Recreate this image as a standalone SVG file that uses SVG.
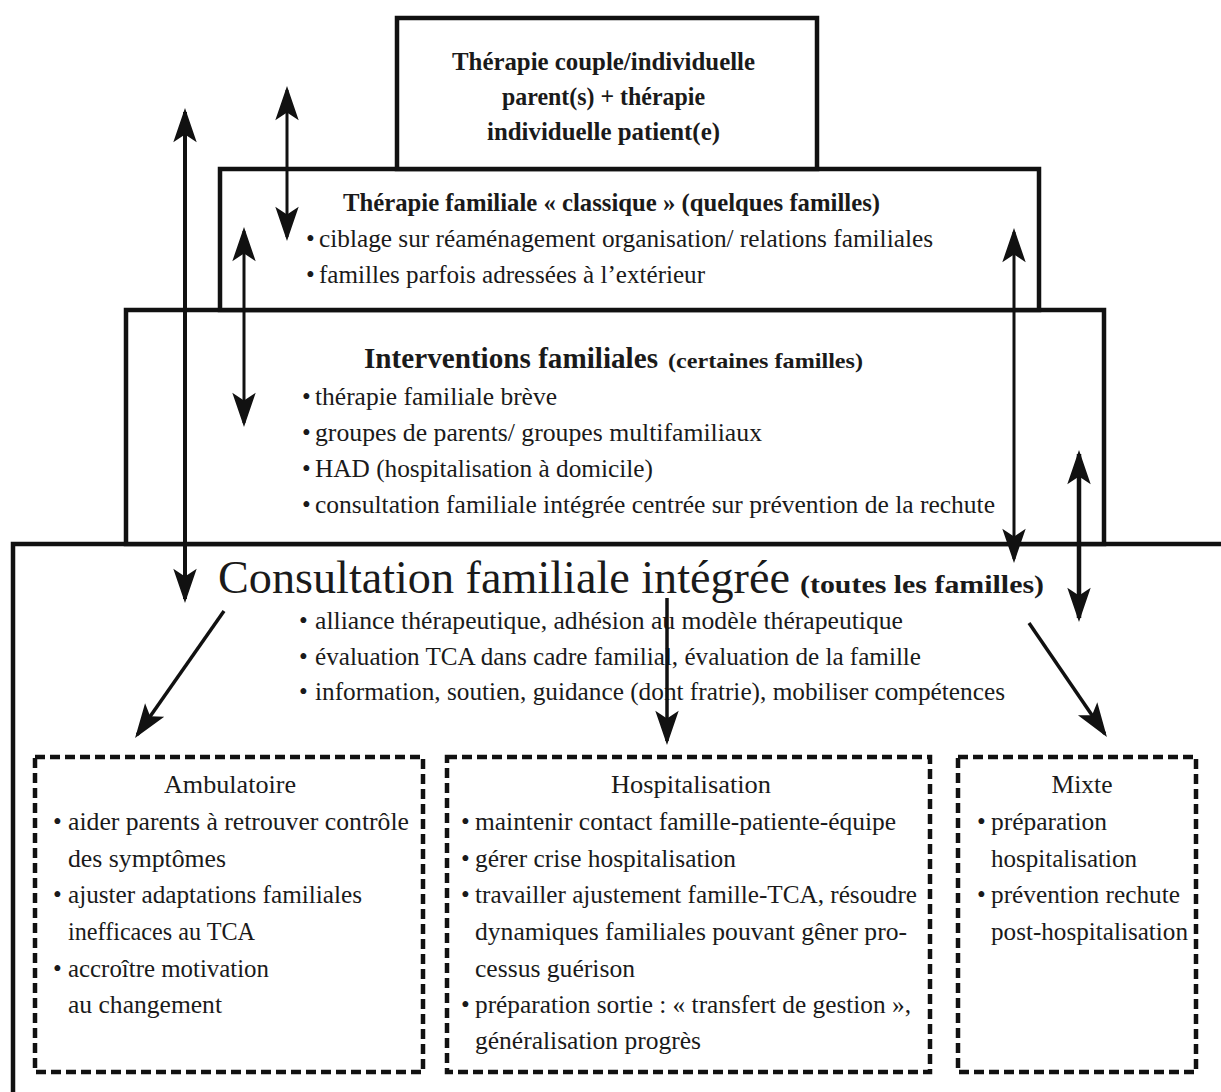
<svg xmlns="http://www.w3.org/2000/svg" width="1221" height="1092" viewBox="0 0 1221 1092">
<defs>
<style>
text{font-family:"Liberation Serif","Times New Roman",serif;fill:#1a1a1a;}
.b{font-weight:bold;}
.hd{font-size:26px;font-weight:bold;}
.tx{font-size:25px;}
.box{fill:#fff;stroke:#111;stroke-width:4.5;}
.dash{fill:none;stroke:#111;stroke-width:4.5;stroke-dasharray:10 5;}
.arr{stroke:#111;fill:none;marker-start:url(#ah);marker-end:url(#ah);}
.one{stroke:#111;fill:none;marker-end:url(#ah);}
</style>
<marker id="ah" markerUnits="userSpaceOnUse" markerWidth="40" markerHeight="28" viewBox="-37 -14 41 28" refX="-4" refY="0" orient="auto-start-reverse">
<path d="M0,0 L-35,-12 L-27,0 L-35,12 Z" fill="#111"/>
</marker>
</defs>
<rect width="1221" height="1092" fill="#fff"/>

<g id="node-consultation">
<path d="M13,1092 V544 H1221" class="box"/>
<text x="218" y="593" font-size="46" textLength="572" lengthAdjust="spacingAndGlyphs">Consultation familiale intégrée</text>
<text x="800" y="593" class="hd" textLength="244" lengthAdjust="spacingAndGlyphs">(toutes les familles)</text>
<text x="299" y="629" class="tx">•</text>
<text x="315" y="629" class="tx" textLength="588" lengthAdjust="spacingAndGlyphs">alliance thérapeutique, adhésion au modèle thérapeutique</text>
<text x="299" y="665" class="tx">•</text>
<text x="315" y="665" class="tx" textLength="606" lengthAdjust="spacingAndGlyphs">évaluation TCA dans cadre familial, évaluation de la famille</text>
<text x="299" y="700" class="tx">•</text>
<text x="315" y="700" class="tx" textLength="690" lengthAdjust="spacingAndGlyphs">information, soutien, guidance (dont fratrie), mobiliser compétences</text>
</g>

<g id="node-interventions">
<rect x="126" y="310" width="978" height="234" class="box"/>
<text x="364" y="368" font-size="30" class="b" textLength="294" lengthAdjust="spacingAndGlyphs">Interventions familiales</text>
<text x="668" y="368" font-size="21" class="b" textLength="195" lengthAdjust="spacingAndGlyphs">(certaines familles)</text>
<text x="302" y="405" class="tx">•</text>
<text x="315" y="405" class="tx" textLength="242" lengthAdjust="spacingAndGlyphs">thérapie familiale brève</text>
<text x="302" y="441" class="tx">•</text>
<text x="315" y="441" class="tx" textLength="447" lengthAdjust="spacingAndGlyphs">groupes de parents/ groupes multifamiliaux</text>
<text x="302" y="477" class="tx">•</text>
<text x="315" y="477" class="tx" textLength="338" lengthAdjust="spacingAndGlyphs">HAD (hospitalisation à domicile)</text>
<text x="302" y="513" class="tx">•</text>
<text x="315" y="513" class="tx" textLength="680" lengthAdjust="spacingAndGlyphs">consultation familiale intégrée centrée sur prévention de la rechute</text>
</g>

<g id="node-classique">
<rect x="220" y="169" width="819" height="141" class="box"/>
<text x="343" y="211" class="hd" textLength="537" lengthAdjust="spacingAndGlyphs">Thérapie familiale « classique » (quelques familles)</text>
<text x="306" y="247" class="tx">•</text>
<text x="319" y="247" class="tx" textLength="614" lengthAdjust="spacingAndGlyphs">ciblage sur réaménagement organisation/ relations familiales</text>
<text x="306" y="283" class="tx">•</text>
<text x="319" y="283" class="tx" textLength="386" lengthAdjust="spacingAndGlyphs">familles parfois adressées à l’extérieur</text>
</g>

<g id="node-couple">
<rect x="397" y="18" width="420" height="151" class="box"/>
<text x="452" y="70" class="hd" textLength="303" lengthAdjust="spacingAndGlyphs">Thérapie couple/individuelle</text>
<text x="502" y="105" class="hd" textLength="203" lengthAdjust="spacingAndGlyphs">parent(s) + thérapie</text>
<text x="487" y="140" class="hd" textLength="233" lengthAdjust="spacingAndGlyphs">individuelle patient(e)</text>
</g>

<g id="node-ambulatoire">
<rect x="35" y="757" width="388" height="315" class="dash"/>
<text x="230" y="793" class="tx" text-anchor="middle" textLength="132" lengthAdjust="spacingAndGlyphs">Ambulatoire</text>
<text x="53" y="830" class="tx">•</text>
<text x="68" y="830" class="tx" textLength="341" lengthAdjust="spacingAndGlyphs">aider parents à retrouver contrôle</text>
<text x="68" y="867" class="tx" textLength="158" lengthAdjust="spacingAndGlyphs">des symptômes</text>
<text x="53" y="903" class="tx">•</text>
<text x="68" y="903" class="tx" textLength="294" lengthAdjust="spacingAndGlyphs">ajuster adaptations familiales</text>
<text x="68" y="940" class="tx" textLength="187" lengthAdjust="spacingAndGlyphs">inefficaces au TCA</text>
<text x="53" y="977" class="tx">•</text>
<text x="68" y="977" class="tx" textLength="201" lengthAdjust="spacingAndGlyphs">accroître motivation</text>
<text x="68" y="1013" class="tx" textLength="154" lengthAdjust="spacingAndGlyphs">au changement</text>
</g>

<g id="node-hospitalisation">
<rect x="447" y="757" width="483" height="315" class="dash"/>
<text x="691" y="793" class="tx" text-anchor="middle" textLength="160" lengthAdjust="spacingAndGlyphs">Hospitalisation</text>
<text x="461" y="830" class="tx">•</text>
<text x="475" y="830" class="tx" textLength="421" lengthAdjust="spacingAndGlyphs">maintenir contact famille-patiente-équipe</text>
<text x="461" y="867" class="tx">•</text>
<text x="475" y="867" class="tx" textLength="261" lengthAdjust="spacingAndGlyphs">gérer crise hospitalisation</text>
<text x="461" y="903" class="tx">•</text>
<text x="475" y="903" class="tx" textLength="442" lengthAdjust="spacingAndGlyphs">travailler ajustement famille-TCA, résoudre</text>
<text x="475" y="940" class="tx" textLength="432" lengthAdjust="spacingAndGlyphs">dynamiques familiales pouvant gêner pro-</text>
<text x="475" y="977" class="tx" textLength="160" lengthAdjust="spacingAndGlyphs">cessus guérison</text>
<text x="461" y="1013" class="tx">•</text>
<text x="475" y="1013" class="tx" textLength="436" lengthAdjust="spacingAndGlyphs">préparation sortie : « transfert de gestion »,</text>
<text x="475" y="1049" class="tx" textLength="226" lengthAdjust="spacingAndGlyphs">généralisation progrès</text>
</g>

<g id="node-mixte">
<rect x="958" y="757" width="238" height="315" class="dash"/>
<text x="1082" y="793" class="tx" text-anchor="middle" textLength="61" lengthAdjust="spacingAndGlyphs">Mixte</text>
<text x="977" y="830" class="tx">•</text>
<text x="991" y="830" class="tx" textLength="116" lengthAdjust="spacingAndGlyphs">préparation</text>
<text x="991" y="867" class="tx" textLength="146" lengthAdjust="spacingAndGlyphs">hospitalisation</text>
<text x="977" y="903" class="tx">•</text>
<text x="991" y="903" class="tx" textLength="189" lengthAdjust="spacingAndGlyphs">prévention rechute</text>
<text x="991" y="940" class="tx" textLength="197" lengthAdjust="spacingAndGlyphs">post-hospitalisation</text>
</g>

<g id="connectors">
<line x1="185" y1="112" x2="185" y2="599" class="arr" stroke-width="4"/>
<line x1="287" y1="90" x2="287" y2="237" class="arr" stroke-width="3"/>
<line x1="244" y1="231" x2="244" y2="423" class="arr" stroke-width="3"/>
<line x1="1014" y1="232" x2="1014" y2="559" class="arr" stroke-width="3"/>
<line x1="1079" y1="454" x2="1079" y2="618" class="arr" stroke-width="4.5"/>
<line x1="224" y1="611" x2="137.3" y2="734.7" class="one" stroke-width="3.5"/>
<line x1="667" y1="598" x2="667" y2="741" class="one" stroke-width="3.5"/>
<line x1="1029" y1="623" x2="1104.7" y2="733.7" class="one" stroke-width="3.5"/>
</g>
</svg>
